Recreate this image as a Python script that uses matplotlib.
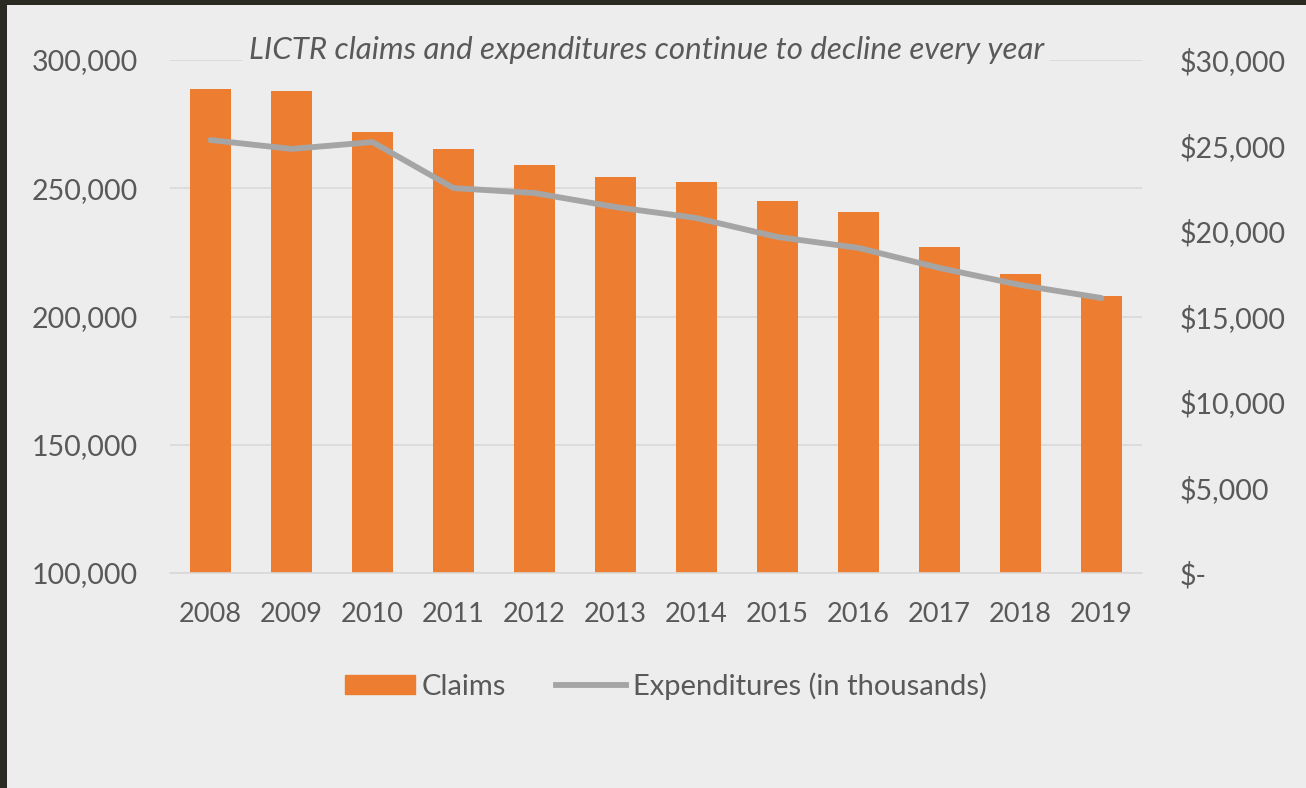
import matplotlib.pyplot as plt
import matplotlib.patches as mpatches
from matplotlib.lines import Line2D
from matplotlib.ticker import FuncFormatter
import numpy as np


# data
years = ["2008", "2009", "2010", "2011", "2012", "2013",
         "2014", "2015", "2016", "2017", "2018", "2019"]
claims = [288700, 287900, 271900, 265300, 259100, 254400,
          252400, 245000, 240700, 227100, 216500, 207900]
expenditures = [25320, 24800, 25200, 22510, 22220, 21400,
                20760, 19650, 19010, 17840, 16840, 16080]
left_ticks = [100000, 150000, 200000, 250000, 300000]
right_ticks = [0, 5000, 10000, 15000, 20000, 25000, 30000]

# styling
bg = "#EDEDED"
orange = "#ED7D31"
gray_line = "#A5A5A5"
grid_col = "#D9D9D9"
txt = "#595959"
plt.rcParams["font.family"] = ["Lato", "DejaVu Sans"]

fig = plt.figure(figsize=(13.06, 7.88), dpi=100)
fig.patch.set_facecolor("#2a2a22")
# light chart panel inside the dark photo frame
fig.patches.append(mpatches.Rectangle((7 / 1306, 0), 1, 1 - 5 / 788,
                                      transform=fig.transFigure,
                                      facecolor=bg, edgecolor="none", zorder=-5))

ax = fig.add_axes([170 / 1306, 1 - 573 / 788, 972 / 1306, 513 / 788])
ax.set_facecolor("none")
x = np.arange(len(years))
ax.bar(x, claims, width=0.5, color=orange, zorder=2)
ax.set_ylim(100000, 300000)
ax.set_xlim(-0.5, len(years) - 0.5)
ax.set_yticks(left_ticks)
ax.yaxis.set_major_formatter(FuncFormatter(lambda v, p: f"{int(v):,}"))
ax.set_xticks(x)
ax.set_xticklabels(years)
ax.grid(axis="y", color=grid_col, linewidth=1.2, zorder=0)
ax.set_axisbelow(True)
for s in ["top", "right", "left"]:
    ax.spines[s].set_visible(False)
ax.spines["bottom"].set_color(grid_col)
ax.spines["bottom"].set_linewidth(1.2)
ax.tick_params(axis="y", length=0, labelsize=20.5, labelcolor=txt, pad=23)
ax.tick_params(axis="x", length=0, labelsize=19.5, labelcolor=txt, pad=21)

ax2 = ax.twinx()
ax2.plot(x, expenditures, color=gray_line, linewidth=4.2, zorder=3,
         solid_capstyle="round", solid_joinstyle="round")
ax2.set_ylim(0, 30000)
ax2.set_yticks(right_ticks)
ax2.yaxis.set_major_formatter(
    FuncFormatter(lambda v, p: "$-" if v == 0 else f"${int(v):,}"))
for s in ax2.spines.values():
    s.set_visible(False)
ax2.tick_params(axis="y", length=0, labelsize=20.5, labelcolor=txt, pad=27)

ax.text(0.49, 1.02, "LICTR claims and expenditures continue to decline every year",
        transform=ax.transAxes, ha="center", va="center", fontsize=22.5,
        style="italic", color=txt, zorder=5,
        bbox=dict(facecolor=bg, edgecolor="none", pad=4))

handles = [mpatches.Patch(color=orange, label="Claims"),
           Line2D([], [], color=gray_line, linewidth=4.2, label="Expenditures (in thousands)")]
fig.legend(handles=handles, loc="center", bbox_to_anchor=(666 / 1306, 1 - 686 / 788),
           ncol=2, frameon=False, fontsize=21, labelcolor=txt,
           handlelength=2.4, handleheight=0.6, handletextpad=0.25, columnspacing=1.7)

plt.savefig("out.png", dpi=100, facecolor=fig.get_facecolor())
